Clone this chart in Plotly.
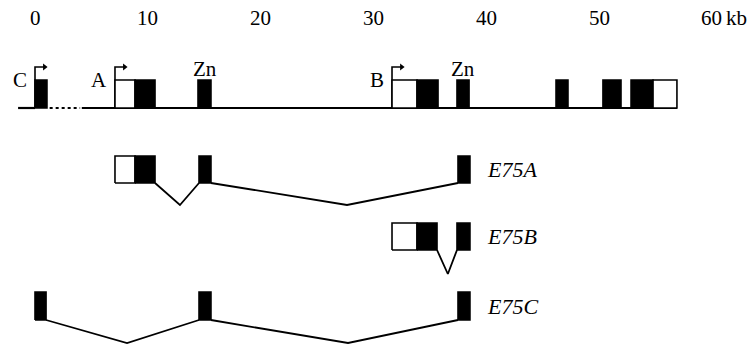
import plotly.graph_objects as go

# ---------------- data (kb) ----------------
tick_values = [0, 10, 20, 30, 40, 50, 60]
tick_labels = ["0", "10", "20", "30", "40", "50", "60"]
unit_label = "kb"

# genomic locus: exon start / end / kind ('cds' filled, 'utr' open)
locus_start = [0.0, 7.09, 8.87, 14.45, 31.65, 33.87, 37.41, 46.19, 50.35, 52.84, 54.79]
locus_end   = [1.06, 8.87, 10.64, 15.60, 33.87, 35.73, 38.48, 47.25, 51.95, 54.79, 56.91]
locus_kind  = ["cds", "utr", "cds", "cds", "utr", "cds", "cds", "cds", "cds", "cds", "utr"]
locus_line_start = -1.5
locus_gap = [1.3, 4.0]          # dotted (uncloned) stretch
locus_line_resume = 4.15

promoters = ["C", "A", "B"]
promoter_pos = [0.0, 7.09, 31.65]
zn_pos = [15.03, 37.95]

# isoforms: exons (start, end); first exon may have a 5' UTR part ending at utr_end
isoforms = ["E75A", "E75B", "E75C"]
iso_exon_start = [[7.09, 14.54, 37.50],
                  [31.65, 37.41],
                  [0.0, 14.54, 37.50]]
iso_exon_end   = [[10.64, 15.60, 38.56],
                  [35.64, 38.56],
                  [0.98, 15.60, 38.56]]
iso_utr_end    = [8.87, 33.87, None]
iso_apex       = [[12.85, 27.66], [36.6], [8.16, 27.75]]

# ---------------- layout constants (pixel rows) ----------------
W, H = 755, 346
PX0, PXK = 35.0, 11.28          # pixel of 0 kb, pixels per kb
XR = [(0 - PX0) / PXK, (W - PX0) / PXK]
locus_bottom, locus_top = 108, 80
iso_bottom = [183, 250, 320]
iso_top = [156, 223, 292]
iso_depth = [22, 24, 23]

FONT = "Liberation Serif"
fig = go.Figure()


def box(x0, x1, y0, y1, kind):
    fill = "black" if kind == "cds" else "white"
    fig.add_trace(go.Scatter(x=[x0, x1, x1, x0, x0], y=[y1, y1, y0, y0, y1],
                             mode="lines", fill="toself", fillcolor=fill,
                             line=dict(color="black", width=1.6),
                             hoverinfo="skip", showlegend=False))


def line(xs, ys, width=1.8, dash="solid"):
    fig.add_trace(go.Scatter(x=xs, y=ys, mode="lines",
                             line=dict(color="black", width=width, dash=dash),
                             hoverinfo="skip", showlegend=False))


# locus backbone
line([locus_line_start, locus_start[0]], [locus_bottom] * 2, 2.2)
line(locus_gap, [locus_bottom] * 2, 2.2, "dot")
line([locus_line_resume, locus_end[-1]], [locus_bottom] * 2, 2.2)

# promoter arrows
arrow_top = 67
arrow_len = 0.85
for p in promoter_pos:
    line([p, p, p + arrow_len], [locus_bottom, arrow_top, arrow_top], 1.6)
    fig.add_trace(go.Scatter(x=[p + arrow_len], y=[arrow_top], mode="markers",
                             marker=dict(symbol="triangle-right", size=6, color="black"),
                             hoverinfo="skip", showlegend=False))

for s, e, k in zip(locus_start, locus_end, locus_kind):
    box(s, e, locus_top, locus_bottom, k)

# isoforms
for i, name in enumerate(isoforms):
    starts, ends = iso_exon_start[i], iso_exon_end[i]
    yb, yt = iso_bottom[i], iso_top[i]
    for j, apex in enumerate(iso_apex[i]):
        line([ends[j], apex, starts[j + 1]], [yb, yb + iso_depth[i], yb], 1.8)
    for j, (s, e) in enumerate(zip(starts, ends)):
        u = iso_utr_end[i]
        if j == 0 and u is not None:
            box(s, u, yt, yb, "utr")
            box(u, e, yt, yb, "cds")
        else:
            box(s, e, yt, yb, "cds")
    fig.add_annotation(x=ends[-1] + 1.3, y=(yt + yb) / 2, text=name,
                       xanchor="left", yanchor="middle", showarrow=False,
                       font=dict(family=FONT, size=22, color="black", style="italic"))

# scale labels
for v, t in zip(tick_values, tick_labels):
    fig.add_annotation(x=v, y=18, text=t, showarrow=False, xanchor="center",
                       yanchor="middle", font=dict(family=FONT, size=21, color="black"))
fig.add_annotation(x=tick_values[-1] + 1.1, y=18, text=unit_label, showarrow=False,
                   xanchor="left", yanchor="middle",
                   font=dict(family=FONT, size=21, color="black"))

# promoter letters
for name, p in zip(promoters, promoter_pos):
    fig.add_annotation(x=p - 0.55, y=80, text=name, showarrow=False, xanchor="right",
                       yanchor="middle", font=dict(family=FONT, size=21, color="black"))
for z in zn_pos:
    fig.add_annotation(x=z, y=69, text="Zn", showarrow=False, xanchor="center",
                       yanchor="middle", font=dict(family=FONT, size=21, color="black"))

fig.update_layout(width=W, height=H, margin=dict(l=0, r=0, t=0, b=0),
                  paper_bgcolor="white", plot_bgcolor="white",
                  xaxis=dict(range=XR, visible=False, fixedrange=True),
                  yaxis=dict(range=[H, 0], visible=False, fixedrange=True),
                  showlegend=False)
fig.write_html("out.html")
